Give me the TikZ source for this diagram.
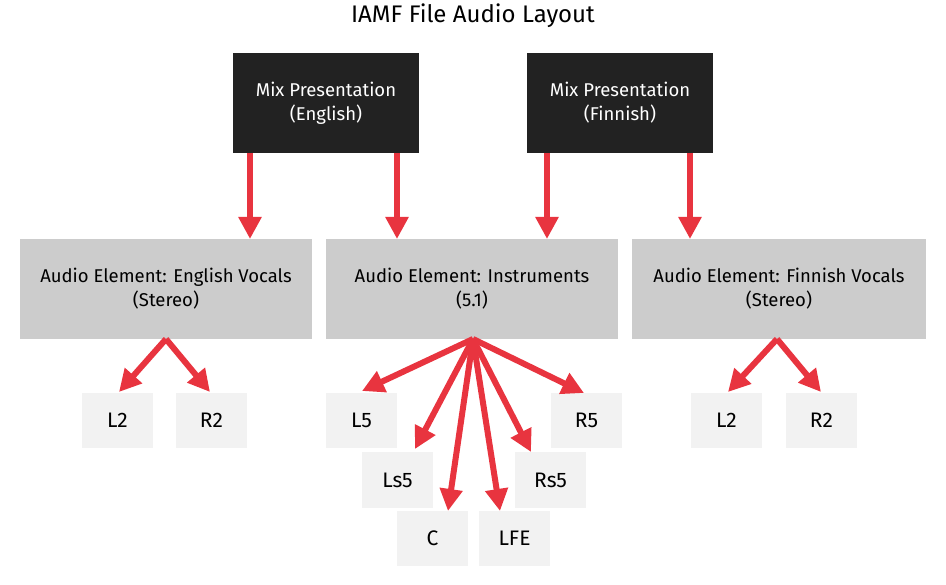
\documentclass[tikz,border=0pt]{standalone}
\usepackage{fontspec}
\setmainfont{Fira Sans}
\usetikzlibrary{arrows.meta}
\definecolor{dk}{HTML}{222222}
\definecolor{el}{HTML}{CCCCCC}
\definecolor{lf}{HTML}{F2F2F2}
\definecolor{rd}{HTML}{E8343F}
\begin{document}
\begin{tikzpicture}[x=1pt,y=-1pt,
 mix/.style={fill=dk,text=white,minimum width=186pt,minimum height=100pt,align=center,font=\fontsize{18.5}{24}\selectfont},
 elem/.style={fill=el,minimum width=292pt,minimum height=100pt,align=center,font=\fontsize{18.5}{24}\selectfont},
 leaf/.style={fill=lf,minimum width=71pt,minimum height=55pt,font=\fontsize{21}{24}\selectfont},
 arr/.style={draw=rd,line width=6pt,-{Triangle[length=22pt,width=22pt]},shorten >=0pt}]
\useasboundingbox (0,0) rectangle (946,585);
\node[font=\fontsize{24}{28}\selectfont] (title) at (473,16) {IAMF File Audio Layout};
\node[mix] (me) at (326,103) {Mix Presentation\\(English)};
\node[mix] (mf) at (620,103) {Mix Presentation\\(Finnish)};
\node[elem] (ee) at (166,289) {Audio Element: English Vocals\\(Stereo)};
\node[elem,minimum width=292pt] (ei) at (472,289) {Audio Element: Instruments\\(5.1)};
\node[elem,minimum width=294pt] (ef) at (779,289) {Audio Element: Finnish Vocals\\(Stereo)};
\node[leaf] (l2e) at (117.5,420.5) {L2};
\node[leaf] (r2e) at (211.5,420.5) {R2};
\node[leaf] (l5) at (361.5,420.5) {L5};
\node[leaf] (r5) at (586.5,420.5) {R5};
\node[leaf] (ls5) at (397.5,480) {Ls5};
\node[leaf] (rs5) at (550.5,480) {Rs5};
\node[leaf] (c) at (432.5,538) {C};
\node[leaf] (lfe) at (514.5,538) {LFE};
\node[leaf] (l2f) at (726.5,420.5) {L2};
\node[leaf] (r2f) at (821.5,420.5) {R2};
\coordinate (pe) at (166,339);
\coordinate (pi) at (473,339);
\coordinate (pf) at (777,339);
\coordinate (te1) at (250,239); \coordinate (te2) at (397,239);
\coordinate (tf1) at (547,239); \coordinate (tf2) at (690,239);
\draw[arr] (me.south -| te1) -- (te1);
\draw[arr] (me.south -| te2) -- (te2);
\draw[arr] (mf.south -| tf1) -- (tf1);
\draw[arr] (mf.south -| tf2) -- (tf2);
\coordinate (a1) at (119,392); \coordinate (a2) at (210,392);
\draw[arr] (pe) -- (a1); \draw[arr] (pe) -- (a2);
\coordinate (b1) at (362,391); \coordinate (b2) at (415,449);
\coordinate (b3) at (448,511); \coordinate (b4) at (500,511);
\coordinate (b5) at (531,452); \coordinate (b6) at (584,393);
\foreach \t in {b1,b2,b3,b4,b5,b6} \draw[arr] (pi) -- (\t);
\coordinate (f1) at (728,392); \coordinate (f2) at (821,392);
\draw[arr] (pf) -- (f1); \draw[arr] (pf) -- (f2);
\end{tikzpicture}
\end{document}
